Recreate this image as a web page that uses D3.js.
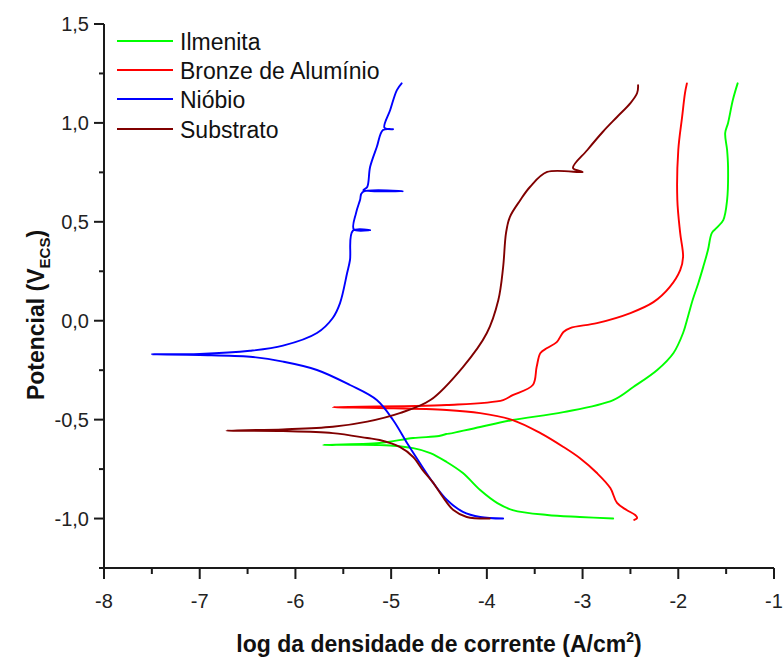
<!DOCTYPE html>
<html><head><meta charset="utf-8">
<script src="https://cdn.jsdelivr.net/npm/d3@7"></script>
<style>
html,body{margin:0;padding:0;background:#fff;}
svg{display:block;}
text{font-family:"Liberation Sans",Arial,sans-serif;}
</style></head>
<body>
<svg id="chart" width="783" height="657"></svg>
<script>
// ---- data (log i [A/cm2], E [V_ECS]) ----
const seriesNames = ["Ilmenita","Bronze de Alumínio","Nióbio","Substrato"];
const seriesColors = ["#00ff00","#ff0000","#0000ff","#800000"];

const ilmenita = [[-2.68,-1.0],[-3.03,-0.992],[-3.37,-0.982],[-3.73,-0.957],[-3.89,-0.922],[-4.07,-0.856],[-4.25,-0.77],[-4.42,-0.714],[-4.59,-0.669],[-4.77,-0.644],[-5.12,-0.628],[-5.71,-0.628],
 [-5.12,-0.618],[-4.77,-0.593],[-4.50,-0.583],[-4.42,-0.572],[-4.46,-0.578],[-4.07,-0.537],[-3.73,-0.502],[-3.20,-0.462],[-2.68,-0.401],[-2.47,-0.335],[-2.22,-0.249],[-2.05,-0.163],[-1.95,-0.062],[-1.90,0.019],[-1.85,0.105],[-1.79,0.191],[-1.74,0.271],[-1.69,0.357],[-1.65,0.443],[-1.60,0.469],[-1.53,0.509],[-1.49,0.61],[-1.48,0.777],[-1.49,0.863],[-1.51,0.949],[-1.48,1.0],[-1.43,1.116],[-1.38,1.20]];

const bronze = [[-2.46,-1.007],[-2.43,-0.997],[-2.45,-0.982],[-2.54,-0.957],[-2.64,-0.921],[-2.71,-0.846],[-2.85,-0.77],[-3.03,-0.694],[-3.20,-0.638],[-3.44,-0.568],[-3.73,-0.502],[-4.07,-0.467],[-4.42,-0.451],[-5.12,-0.441],[-5.61,-0.437],
 [-4.42,-0.426],[-3.83,-0.401],[-3.73,-0.376],[-3.52,-0.325],[-3.48,-0.234],[-3.44,-0.163],[-3.37,-0.138],[-3.27,-0.108],[-3.20,-0.057],[-3.13,-0.037],[-2.85,-0.012],[-2.50,0.039],[-2.26,0.094],[-2.09,0.170],[-1.98,0.256],[-1.95,0.322],[-1.98,0.443],[-2.01,0.61],[-2.0,0.863],[-1.96,1.03],[-1.93,1.151],[-1.91,1.20]];

const niobio = [[-3.83,-1.0],[-4.07,-0.992],[-4.25,-0.966],[-4.416,-0.906],[-4.56,-0.82],[-4.70,-0.719],[-4.834,-0.618],[-4.98,-0.502],[-5.15,-0.401],[-5.43,-0.325],[-5.775,-0.249],[-6.13,-0.207],[-6.475,-0.182],[-7.0,-0.173],[-7.50,-0.170],
 [-7.0,-0.168],[-6.475,-0.152],[-6.13,-0.126],[-5.775,-0.062],[-5.61,0.014],[-5.534,0.089],[-5.46,0.241],[-5.43,0.307],[-5.40,0.455],[-5.22,0.458],[-5.39,0.462],[-5.367,0.544],[-5.325,0.61],[-5.30,0.65],[-4.88,0.655],[-5.29,0.66],[-5.25,0.676],[-5.22,0.777],[-5.15,0.878],[-5.085,0.964],[-4.98,0.968],[-5.07,0.975],[-5.01,1.065],[-4.94,1.166],[-4.89,1.20]];

const substrato = [[-3.97,-1.0],[-4.21,-0.992],[-4.35,-0.957],[-4.46,-0.891],[-4.56,-0.82],[-4.67,-0.755],[-4.77,-0.689],[-4.91,-0.638],[-5.12,-0.603],[-5.25,-0.593],[-5.61,-0.568],[-6.13,-0.558],[-6.72,-0.556],
 [-6.13,-0.549],[-5.61,-0.536],[-5.25,-0.51],[-4.91,-0.467],[-4.59,-0.401],[-4.25,-0.234],[-4.0,-0.062],[-3.88,0.105],[-3.83,0.271],[-3.80,0.443],[-3.76,0.524],[-3.65,0.61],[-3.55,0.676],[-3.37,0.752],[-3.0,0.752],[-3.10,0.772],[-2.95,0.863],[-2.79,0.954],[-2.64,1.03],[-2.50,1.10],[-2.43,1.151],[-2.42,1.19]];

const xTicks = [-8,-7,-6,-5,-4,-3,-2,-1];
const yTicks = [-1.0,-0.5,0.0,0.5,1.0,1.5];
const yTickLabels = ["-1,0","-0,5","0,0","0,5","1,0","1,5"];

// ---- layout ----
const svg = d3.select("#chart");
const mLeft = 104, mRight = 774, mTop = 24, mBottom = 568;
const x = d3.scaleLinear().domain([-8,-1]).range([mLeft,mRight]);
const y = d3.scaleLinear().domain([-1.25,1.5]).range([mBottom,mTop]);
const axisColor = "#1a1a1a";

const line = d3.line().x(d=>x(d[0])).y(d=>y(d[1])).curve(d3.curveCatmullRom.alpha(0.5));
const data = [ilmenita, bronze, niobio, substrato];

// curves
data.forEach((s,i)=>{
  svg.append("path").attr("d", line(s)).attr("fill","none")
    .attr("stroke", seriesColors[i]).attr("stroke-width",1.9)
    .attr("stroke-linejoin","round").attr("stroke-linecap","round");
});

// axes
const xAxis = svg.append("g").attr("transform",`translate(0,${mBottom})`);
xAxis.append("line").attr("x1",mLeft).attr("x2",mRight).attr("y1",0).attr("y2",0)
  .attr("stroke",axisColor).attr("stroke-width",2);
const xMinor = d3.range(-7.5,-1,1);
xAxis.selectAll(".xmaj").data(xTicks).join("line").attr("class","xmaj")
  .attr("x1",d=>x(d)).attr("x2",d=>x(d)).attr("y1",0).attr("y2",11)
  .attr("stroke",axisColor).attr("stroke-width",2);
xAxis.selectAll(".xmin").data(xMinor).join("line").attr("class","xmin")
  .attr("x1",d=>x(d)).attr("x2",d=>x(d)).attr("y1",0).attr("y2",6)
  .attr("stroke",axisColor).attr("stroke-width",2);
xAxis.selectAll(".xlab").data(xTicks).join("text").attr("class","xlab")
  .attr("x",d=>x(d)).attr("y",40).attr("text-anchor","middle")
  .attr("font-size",20).attr("fill","#222").text(d=>String(d));

const yAxis = svg.append("g").attr("transform",`translate(${mLeft},0)`);
yAxis.append("line").attr("x1",0).attr("x2",0).attr("y1",mTop).attr("y2",mBottom)
  .attr("stroke",axisColor).attr("stroke-width",2);
const yMinor = [-1.25,-0.75,-0.25,0.25,0.75,1.25];
yAxis.selectAll(".ymaj").data(yTicks).join("line").attr("class","ymaj")
  .attr("x1",-10).attr("x2",0).attr("y1",d=>y(d)).attr("y2",d=>y(d))
  .attr("stroke",axisColor).attr("stroke-width",2);
yAxis.selectAll(".ymin").data(yMinor).join("line").attr("class","ymin")
  .attr("x1",-5).attr("x2",0).attr("y1",d=>y(d)).attr("y2",d=>y(d))
  .attr("stroke",axisColor).attr("stroke-width",2);
yAxis.selectAll(".ylab").data(yTicks).join("text").attr("class","ylab")
  .attr("x",-15).attr("y",d=>y(d)+7).attr("text-anchor","end")
  .attr("font-size",20).attr("fill","#222").text((d,i)=>yTickLabels[i]);

// axis titles
const xt = svg.append("text").attr("x",439).attr("y",652).attr("text-anchor","middle")
  .attr("font-size",23).attr("font-weight","bold").attr("fill","#111");
xt.append("tspan").text("log da densidade de corrente (A/cm");
xt.append("tspan").attr("dy",-10).attr("font-size",14).text("2");
xt.append("tspan").attr("dy",10).text(")");

const yt = svg.append("text").attr("transform","translate(44,315) rotate(-90)")
  .attr("text-anchor","middle").attr("font-size",23).attr("font-weight","bold").attr("fill","#111");
yt.append("tspan").text("Potencial (V");
yt.append("tspan").attr("dy",6).attr("font-size",15).text("ECS");
yt.append("tspan").attr("dy",-6).text(")");

// legend
const lg = svg.append("g");
const legY = [41,70,99,129];
seriesNames.forEach((n,i)=>{
  lg.append("line").attr("x1",117).attr("x2",173).attr("y1",legY[i]).attr("y2",legY[i])
    .attr("stroke",seriesColors[i]).attr("stroke-width",2);
  lg.append("text").attr("x",180).attr("y",legY[i]+9).attr("font-size",23).attr("fill","#111").text(n);
});
</script>
</body></html>
